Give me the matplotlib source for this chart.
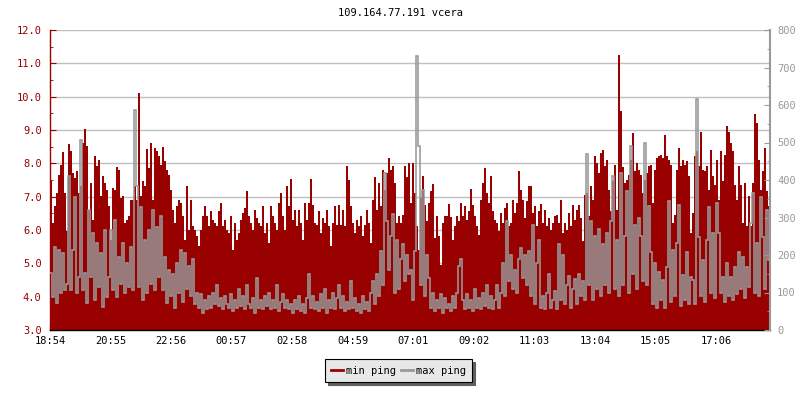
import numpy as np
import matplotlib.pyplot as plt
from matplotlib.lines import Line2D
from matplotlib.ticker import MultipleLocator, FormatStrFormatter

plt.rcParams['font.family'] = 'DejaVu Sans Mono'
plt.rcParams['font.size'] = 7.5

RED = '#990000'
GRAY = '#999999'

title = "109.164.77.191 vcera"
time_labels = ["18:54", "20:55", "22:56", "00:57", "02:58", "04:59",
               "07:01", "09:02", "11:03", "13:04", "15:05", "17:06"]

# min ping (left axis), one value per 4 minutes
min_ping = [
    7.46, 6.21, 6.71, 7.11, 7.66, 7.96, 8.35, 7.11, 5.96, 8.57,
    8.37, 7.71, 7.56, 7.76, 7.11, 7.31, 8.60, 9.02, 8.52, 6.61,
    7.41, 6.31, 8.23, 7.91, 8.11, 7.01, 7.61, 7.41, 7.21, 6.71,
    5.71, 7.26, 7.21, 7.90, 7.81, 6.96, 7.01, 6.21, 6.31, 6.41,
    6.91, 6.91, 7.31, 6.91, 10.1, 7.01, 7.46, 7.31, 8.42, 7.86,
    8.62, 6.91, 8.47, 8.37, 8.21, 7.96, 8.50, 8.06, 7.81, 7.66,

    7.21, 6.61, 6.21, 6.71, 6.91, 6.81, 6.41, 5.71, 7.33, 6.01,
    6.91, 6.11, 6.01, 5.81, 5.51, 6.01, 6.41, 6.71, 6.41, 6.11,
    6.56, 6.31, 6.21, 6.11, 6.56, 6.81, 6.11, 6.31, 6.01, 5.91,
    6.41, 5.41, 6.21, 5.71, 5.91, 6.31, 6.51, 6.66, 7.16, 6.41,
    6.21, 6.01, 6.61, 6.36, 6.21, 6.11, 6.71, 5.91, 6.21, 5.61,
    6.71, 6.41, 6.21, 6.01, 6.81, 7.11, 6.41, 6.01, 7.31, 6.71,

    7.53, 6.31, 6.61, 6.11, 6.61, 6.21, 5.71, 6.81, 6.31, 6.81,
    7.53, 6.76, 6.21, 6.16, 6.56, 5.91, 6.36, 6.21, 6.61, 6.11,
    5.51, 6.21, 6.71, 6.16, 6.76, 6.16, 6.61, 6.11, 7.93, 7.51,
    6.71, 6.21, 5.91, 6.31, 6.11, 6.41, 5.81, 6.16, 6.61, 6.21,
    5.61, 6.91, 7.59, 6.61, 7.41, 6.71, 7.81, 7.21, 7.71, 8.16,
    7.81, 7.91, 7.41, 6.21, 6.41, 6.21, 6.46, 7.93, 7.59, 8.01,

    6.81, 8.01, 7.11, 6.11, 5.41, 6.96, 7.63, 6.76, 6.26, 6.81,
    7.16, 7.39, 5.76, 6.41, 5.81, 4.96, 6.21, 6.43, 6.41, 6.79,
    6.39, 5.71, 6.11, 6.41, 6.26, 6.81, 6.41, 6.71, 6.31, 6.56,
    7.23, 6.76, 6.41, 6.11, 5.86, 6.91, 7.41, 7.86, 7.11, 6.81,
    7.61, 6.56, 6.31, 6.21, 5.96, 6.51, 6.21, 6.66, 6.81, 6.11,
    6.21, 6.91, 6.51, 6.81, 7.78, 7.21, 6.91, 6.36, 6.86, 7.31,

    7.31, 6.51, 6.71, 6.11, 6.56, 6.79, 6.21, 6.59, 6.11, 6.36,
    6.01, 6.21, 6.41, 6.46, 6.21, 6.89, 5.91, 6.21, 6.01, 6.51,
    6.11, 6.76, 6.31, 6.61, 6.76, 6.36, 5.66, 7.06, 7.11, 6.41,
    7.31, 6.91, 8.21, 8.01, 7.71, 8.31, 8.41, 7.91, 8.11, 7.21,
    6.56, 7.46, 7.96, 6.61, 11.25, 9.57, 7.88, 7.41, 7.51, 7.66,
    8.11, 8.90, 7.76, 8.01, 7.81, 7.66, 7.11, 7.51, 7.71, 7.91,

    7.96, 6.81, 7.81, 8.16, 8.21, 8.26, 8.16, 8.84, 8.21, 8.11,
    7.96, 6.21, 6.46, 7.81, 8.47, 7.91, 8.11, 7.96, 8.06, 7.61,
    5.91, 6.51, 8.21, 8.37, 7.91, 8.94, 7.81, 7.76, 7.91, 7.21,
    8.39, 7.61, 7.36, 8.11, 6.91, 8.37, 7.46, 8.26, 9.12, 8.94,
    8.62, 8.37, 7.36, 6.91, 7.91, 7.36, 6.21, 7.41, 6.11, 7.01,
    6.11, 7.41, 9.47, 9.22, 8.11, 7.21, 7.76, 8.47, 7.16, 6.71,
]

# max ping (right axis, ms), same sampling
max_ping = [
    151, 89, 222, 71, 213, 98, 205, 106, 124, 410,
    106, 213, 356, 98, 142, 508, 106, 151, 71, 321,
    142, 258, 80, 231, 115, 205, 62, 267, 89, 142,
    267, 106, 294, 89, 196, 124, 231, 98, 178, 115,
    222, 106, 588, 383, 115, 329, 80, 240, 98, 267,
    124, 321, 106, 276, 142, 303, 106, 196, 71, 160,

    90, 150, 60, 180, 100, 213, 75, 205, 110, 170,
    90, 190, 70, 100, 60, 95, 45, 80, 55, 90,
    60, 100, 70, 120, 65, 85, 55, 90, 70, 60,
    95, 50, 80, 60, 110, 65, 90, 55, 120, 70,
    60, 85, 45, 140, 60, 80, 55, 90, 65, 100,
    55, 80, 60, 120, 50, 75, 95, 60, 80, 55,

    70, 45, 80, 55, 90, 50, 70, 45, 85, 150,
    60, 90, 55, 75, 50, 95, 60, 110, 45, 80,
    60, 100, 55, 85, 120, 60, 90, 50, 75, 55,
    130, 60, 85, 50, 70, 45, 90, 55, 75, 50,
    100, 130, 70, 150, 90, 210, 120, 420, 290, 160,
    250, 310, 100, 240, 110, 190, 230, 130, 200, 150,

    160, 80, 210, 731, 491, 120, 374, 90, 200, 140,
    60, 100, 50, 80, 60, 95, 45, 85, 60, 70,
    50, 90, 60, 100, 170, 190, 80, 55, 95, 60,
    80, 50, 110, 60, 85, 55, 100, 65, 120, 60,
    90, 55, 80, 120, 60, 100, 180, 90, 290, 130,
    200, 110, 160, 100, 190, 220, 140, 200, 120, 210,

    90, 280, 70, 180, 240, 60, 90, 55, 100, 150,
    60, 80, 105, 55, 230, 80, 200, 70, 120, 145,
    60, 110, 135, 70, 150, 90, 130, 80, 470, 120,
    290, 80, 250, 110, 270, 90, 230, 120, 260, 100,
    290, 410, 110, 240, 90, 420, 120, 250, 370, 100,
    490, 150, 280, 110, 300, 250, 130, 500, 120, 330,

    209, 70, 178, 60, 155, 80, 133, 60, 169, 343,
    75, 213, 90, 231, 334, 65, 147, 80, 209, 70,
    142, 133, 70, 616, 249, 90, 187, 75, 240, 329,
    100, 258, 85, 338, 258, 98, 142, 75, 178, 90,
    142, 80, 169, 95, 209, 110, 196, 85, 169, 115,
    285, 365, 100, 231, 90, 356, 249, 110, 321, 187,
]


def minutes_from_start(label):
    h, m = map(int, label.split(':'))
    return ((h * 60 + m) - (18 * 60 + 54)) % 1440


tick_pos = [minutes_from_start(s) for s in time_labels]
edges = np.linspace(0, 1440, len(min_ping) + 1)

fig = plt.figure(figsize=(8, 4), dpi=100)
ax = fig.add_axes([50 / 800, 70 / 400, 720 / 800, 300 / 400])
ax2 = ax.twinx()

# min ping as filled steps, max ping as a step line on the right axis
ax.stairs(min_ping, edges, baseline=3.0, fill=True, color=RED, lw=0)
ax2.stairs(max_ping, edges, baseline=None, color=GRAY, lw=1.15)

ax.set_xlim(0, 1440)
ax.set_ylim(3, 12)
ax2.set_ylim(0, 800)

ax.set_axisbelow(True)
ax.yaxis.grid(True, color='#c0c0c0', lw=1)

ax.set_yticks(np.arange(3, 12.5, 1))
ax.yaxis.set_minor_locator(MultipleLocator(0.5))
ax.yaxis.set_major_formatter(FormatStrFormatter('%.1f'))
ax.tick_params(axis='y', which='both', direction='in', colors=RED, pad=6)
ax.tick_params(axis='y', which='major', length=4)
ax.tick_params(axis='y', which='minor', length=2)

ax.set_xticks(tick_pos)
ax.set_xticklabels(time_labels)
ax.tick_params(axis='x', direction='in', length=4, colors='black', pad=4)

ax2.set_yticks(np.arange(0, 801, 100))
ax2.yaxis.set_minor_locator(MultipleLocator(50))
ax2.tick_params(axis='y', which='both', direction='in', colors=GRAY, pad=5)
ax2.tick_params(axis='y', which='major', length=4)
ax2.tick_params(axis='y', which='minor', length=2)

for a in (ax, ax2):
    a.spines['top'].set_visible(False)
ax.spines['right'].set_visible(False)
ax2.spines['left'].set_visible(False)
ax2.spines['bottom'].set_visible(False)
ax.spines['left'].set_color(RED)
ax.spines['bottom'].set_color('black')
ax2.spines['right'].set_color(GRAY)
for s in ('left', 'bottom'):
    ax.spines[s].set_linewidth(1)
ax2.spines['right'].set_linewidth(1.5)

fig.text(0.5, 1 - 13 / 400, title, ha='center', va='center', color='black')

handles = [Line2D([], [], color=RED, lw=2), Line2D([], [], color=GRAY, lw=2)]
leg = fig.legend(handles, ['min ping', 'max ping'], ncol=2, loc='center',
                 bbox_to_anchor=(398.5 / 800, 29.5 / 400), frameon=True,
                 fancybox=False, facecolor='#e8e8e8', edgecolor='black',
                 framealpha=1, shadow={'color': '#606060', 'alpha': 1},
                 handlelength=1.1, handletextpad=0.3, columnspacing=0.5,
                 borderpad=0.6)
leg.get_frame().set_linewidth(0.8)

fig.savefig('out.png', dpi=100)
